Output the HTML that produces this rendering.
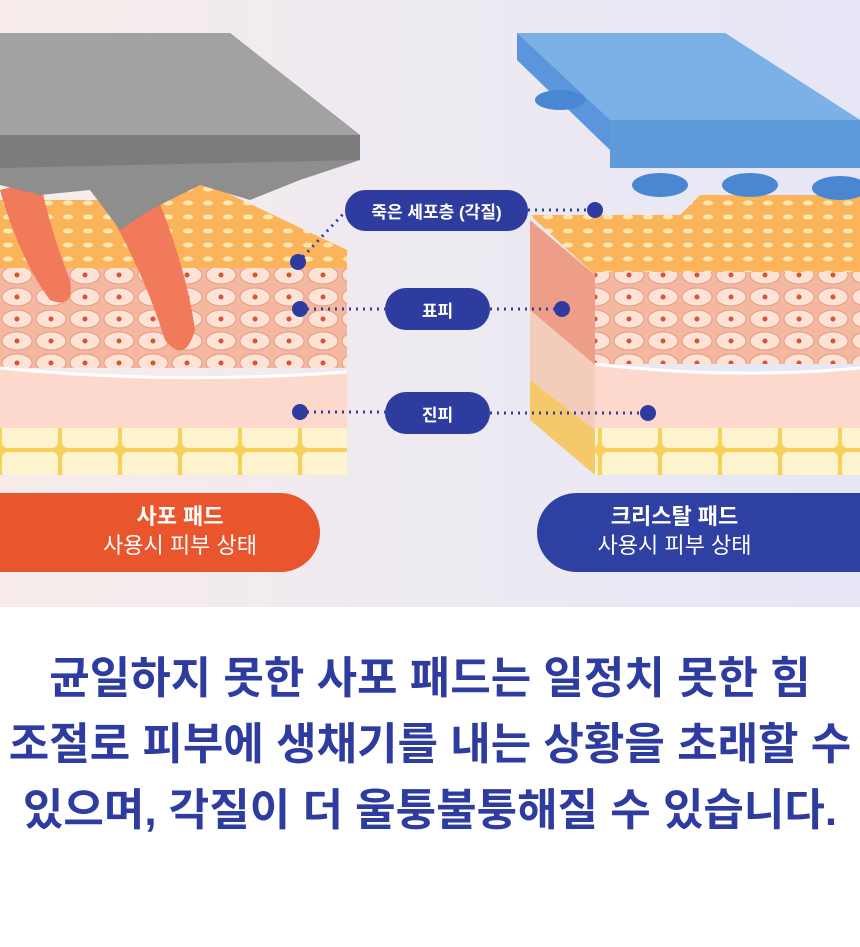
<!DOCTYPE html>
<html><head><meta charset="utf-8"><style>
body{margin:0;width:860px;height:947px;overflow:hidden;background:#fff;font-family:"Liberation Sans","Noto Sans CJK KR",sans-serif}
.top{position:absolute;left:0;top:0;width:860px;height:607px;background:linear-gradient(90deg,#f7ecea,#eeeaf2 50%,#e6e6f6)}
.pill{position:absolute;background:#2f3c9f;color:#fff;font-weight:bold;font-size:17px;border-radius:22px;text-align:center;display:flex;align-items:center;justify-content:center}
.ban{position:absolute;color:#fff;text-align:center;font-size:22px;line-height:29px}
.txt{position:absolute;left:0;width:860px;text-align:center;color:#2f3c9f;font-weight:600;font-size:44px;letter-spacing:0;white-space:nowrap}
</style></head><body>
<div class="top"></div>
<svg width="860" height="607" style="position:absolute;left:0;top:0">
<defs>
<pattern id="cell" width="34" height="22" patternUnits="userSpaceOnUse">
<rect width="34" height="22" fill="#f4b8a0"/><ellipse cx="17" cy="11" rx="15" ry="9" fill="#fde3d6" stroke="#e89a80" stroke-width="1"/><circle cx="17" cy="11" r="2.5" fill="#d9533a"/>
</pattern>
<pattern id="fat" width="60" height="30" patternUnits="userSpaceOnUse">
<rect width="60" height="30" fill="#f7d15a"/><rect x="2" y="2" width="56" height="26" rx="6" fill="#fdf3cf"/>
</pattern>
<pattern id="dots" width="20" height="14" patternUnits="userSpaceOnUse">
<rect width="20" height="14" fill="#fbb45a"/><ellipse cx="8" cy="7" rx="5" ry="2.5" fill="#fde8b0"/>
</pattern>
</defs>
<polygon points="0,200 150,200 200,180 347,250 347,270 0,270" fill="url(#dots)"/>
<rect x="0" y="268" width="347" height="100" fill="url(#cell)"/>
<path d="M0,368 Q170,385 347,372 L347,430 L0,430Z" fill="#fcd9cc"/>
<path d="M0,368 Q170,385 347,372" stroke="#fff" stroke-width="3" fill="none"/>
<rect x="0" y="428" width="347" height="47" fill="url(#fat)"/>
<path d="M0,190 Q20,260 50,300 Q75,310 70,280 Q50,230 40,180Z" fill="#f07a5a"/>
<path d="M90,180 Q140,260 165,340 Q185,365 195,330 Q185,260 150,180Z" fill="#f07a5a"/>
<polygon points="0,33 230,33 360,135 360,160 300,180 250,200 200,185 150,210 120,230 90,190 40,195 0,185" fill="#8e8e8e"/>
<polygon points="0,33 230,33 360,135 0,135" fill="#a2a2a2"/>
<polygon points="0,135 360,135 360,160 0,168" fill="#7c7c7c"/>
<polygon points="530,215 680,215 700,195 860,195 860,275 595,275" fill="url(#dots)"/>
<rect x="595" y="272" width="265" height="92" fill="url(#cell)"/>
<path d="M595,364 Q730,380 860,368 L860,430 L595,430Z" fill="#fcd9cc"/>
<path d="M595,364 Q730,380 860,368" stroke="#fff" stroke-width="3" fill="none"/>
<rect x="595" y="428" width="265" height="47" fill="url(#fat)"/>
<polygon points="530,220 595,275 595,365 530,310" fill="#ee9e88"/>
<polygon points="530,310 595,365 595,430 530,380" fill="#f3cdb9"/>
<polygon points="530,380 595,430 595,475 530,420" fill="#f5c96a"/>
<polygon points="517,33 725,33 860,120 860,150 610,150 517,60" fill="#5b95db"/>
<polygon points="517,33 725,33 860,120 610,120" fill="#7bb1e6"/>
<polygon points="610,120 860,120 860,168 610,168" fill="#5e9ad9"/>
<g fill="#4a87d3"><ellipse cx="660" cy="185" rx="28" ry="12"/><ellipse cx="750" cy="185" rx="28" ry="12"/><ellipse cx="840" cy="188" rx="28" ry="12"/><ellipse cx="560" cy="100" rx="25" ry="10"/></g>
<g stroke="#2f3c9f" stroke-width="3" stroke-dasharray="2 5" fill="none">
<line x1="298" y1="262" x2="345" y2="212"/><line x1="528" y1="210" x2="595" y2="210"/>
<line x1="300" y1="309" x2="385" y2="309"/><line x1="490" y1="309" x2="562" y2="309"/>
<line x1="300" y1="412" x2="385" y2="412"/><line x1="490" y1="413" x2="648" y2="413"/>
</g>
<g fill="#2f3c9f"><circle cx="298" cy="262" r="8"/><circle cx="595" cy="210" r="8"/><circle cx="300" cy="309" r="8"/><circle cx="562" cy="309" r="8"/><circle cx="300" cy="412" r="8"/><circle cx="648" cy="413" r="8"/></g>
</svg>
<div class="pill" style="left:345px;top:190px;width:183px;height:41px">죽은 세포층 (각질)</div>
<div class="pill" style="left:385px;top:288px;width:105px;height:42px">표피</div>
<div class="pill" style="left:385px;top:392px;width:105px;height:42px">진피</div>
<div class="ban" style="left:0;top:493px;width:320px;height:79px;background:#e9552c;border-radius:0 40px 40px 0;padding:9px 0 0 40px;box-sizing:border-box"><b>사포 패드</b><br>사용시 피부 상태</div>
<div class="ban" style="left:537px;top:493px;width:323px;height:79px;background:#2f40a3;border-radius:40px 0 0 40px;padding:9px 48px 0 0;box-sizing:border-box"><b>크리스탈 패드</b><br>사용시 피부 상태</div>
<div class="txt" style="top:642px">균일하지 못한 사포 패드는 일정치 못한 힘</div>
<div class="txt" style="top:708px">조절로 피부에 생채기를 내는 상황을 초래할 수</div>
<div class="txt" style="top:774px">있으며, 각질이 더 울퉁불퉁해질 수 있습니다.</div>
</body></html>
